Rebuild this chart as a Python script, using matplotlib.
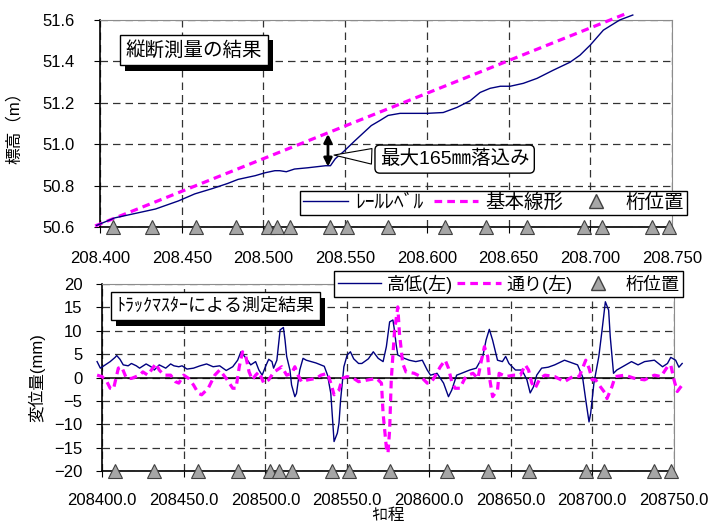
import matplotlib
matplotlib.use("Agg")
import matplotlib.pyplot as plt
import matplotlib.patheffects as pe
from matplotlib.lines import Line2D

plt.rcParams["font.family"] = ["Liberation Sans", "Noto Sans CJK JP"]

# --- data ------------------------------------------------------------------
# upper panel: longitudinal survey (km, m)
rail_km = [208.398, 208.409, 208.423, 208.434, 208.448, 208.458, 208.4685, 208.478,
           208.4845, 208.495, 208.501, 208.507, 208.510, 208.514, 208.519, 208.527,
           208.538, 208.541, 208.544, 208.549, 208.556, 208.566, 208.5714, 208.5763,
           208.5836, 208.600, 208.610, 208.6185, 208.6265, 208.6326, 208.6387, 208.645,
           208.651, 208.659, 208.6674, 208.6772, 208.6876, 208.6937, 208.700, 208.708,
           208.718, 208.726]
rail_m = [50.608, 50.644, 50.668, 50.687, 50.726, 50.760, 50.785, 50.810,
          50.830, 50.848, 50.862, 50.872, 50.872, 50.867, 50.880, 50.886,
          50.896, 50.896, 50.930, 50.964, 51.017, 51.090, 51.115, 51.139,
          51.149, 51.149, 51.153, 51.178, 51.210, 51.250, 51.270, 51.280,
          51.280, 51.294, 51.318, 51.357, 51.396, 51.430, 51.479, 51.551,
          51.600, 51.624]
base_km = [208.397, 208.721]
base_m = [50.605, 51.628]

girder_km = [208.408, 208.432, 208.459, 208.483, 208.503, 208.508, 208.516, 208.541,
             208.551, 208.576, 208.611, 208.636, 208.661, 208.696, 208.707, 208.738,
             208.748]

drop_km = 208.5395
drop_top = 51.063
drop_bottom = 50.878

# lower panel: track master (m, mm)
takatei_x = [208397, 208399, 208402, 208405, 208408, 208409, 208411, 208413, 208416, 208418,
             208421, 208423, 208427, 208430, 208432, 208435, 208439, 208442, 208444, 208447,
             208449, 208452, 208456, 208460, 208464, 208468, 208472, 208476, 208480, 208483,
             208485, 208489, 208491, 208494, 208496, 208498, 208500, 208502, 208504, 208505,
             208507, 208509, 208511, 208512, 208513, 208515, 208516, 208518, 208519, 208521,
             208523, 208525, 208531, 208536, 208538, 208540, 208541, 208542, 208544, 208545,
             208546, 208548, 208550, 208552, 208554, 208557, 208559, 208563, 208566, 208569,
             208572, 208574, 208576, 208578, 208579, 208580, 208581, 208585, 208588, 208592,
             208596, 208599, 208601, 208605, 208609, 208612, 208614, 208617, 208620, 208625,
             208629, 208633, 208635, 208637, 208639, 208642, 208645, 208647, 208649, 208653,
             208657, 208660, 208662, 208664, 208666, 208669, 208673, 208677, 208683, 208687,
             208691, 208694, 208696, 208698, 208699, 208701, 208704, 208706, 208708, 208710,
             208711, 208713, 208715, 208718, 208724, 208728, 208732, 208738, 208743, 208746,
             208748, 208751, 208753, 208755]
takatei_mm = [3.4, 2.0, 2.7, 3.4, 4.3, 4.7, 3.9, 2.7, 2.5, 3.0,
              2.5, 2.0, 2.9, 2.3, 1.6, 2.7, 2.0, 2.9, 2.5, 2.3,
              2.5, 1.8, 2.0, 2.5, 2.9, 2.3, 2.5, 1.5, 2.3, 3.7,
              5.5, 3.7, 2.7, 3.4, 1.6, 0.5, 2.3, 3.9, 3.4, 2.0,
              3.7, 10.2, 10.7, 8.0, 4.5, 1.6, -1.6, -4.1, -3.4, 1.6,
              4.1, 3.7, 3.1, 2.4, 0.5, -3.4, -8.4, -13.7, -11.9, -9.8,
              -4.8, 2.3, 4.8, 5.5, 4.0, 3.0, 3.0, 4.0, 5.5, 4.1,
              3.4, 6.6, 11.9, 12.3, 10.0, 7.0, 4.8, 4.1, 3.7, 3.4,
              3.7, 1.6, 0.5, 0.9, -1.2, -4.1, -2.7, 0.5, 0.9, 1.6,
              2.0, 4.5, 8.0, 10.3, 8.0, 3.7, 3.4, 4.5, 3.0, 1.6,
              1.6, -0.5, -3.3, -2.0, 0.5, 2.0, 2.2, 2.7, 3.7, 3.2,
              2.7, 0.2, -4.8, -9.5, -7.7, -1.2, 4.5, 10.2, 16.2, 14.4,
              8.7, 0.9, 1.6, 2.2, 3.4, 2.7, 3.4, 3.7, 2.3, 3.0,
              4.3, 3.7, 2.2, 3.0]

toori_x = [208397, 208400, 208403, 208405, 208407, 208410, 208412, 208415, 208418, 208423,
           208425, 208428, 208433, 208435, 208438, 208442, 208445, 208447, 208450, 208453,
           208456, 208459, 208461, 208465, 208469, 208472, 208476, 208480, 208482, 208484,
           208486, 208488, 208490, 208492, 208494, 208496, 208499, 208502, 208505, 208510,
           208513, 208516, 208518, 208520, 208522, 208526, 208531, 208534, 208538, 208540,
           208542, 208545, 208547, 208550, 208554, 208557, 208563, 208568, 208571, 208572,
           208574, 208575, 208576, 208577, 208579, 208581, 208582, 208584, 208586, 208591,
           208595, 208599, 208601, 208603, 208607, 208610, 208612, 208614, 208616, 208619,
           208622, 208624, 208627, 208630, 208632, 208634, 208636, 208637, 208639, 208642,
           208643, 208647, 208652, 208656, 208659, 208661, 208663, 208665, 208668, 208671,
           208677, 208683, 208688, 208692, 208696, 208698, 208700, 208702, 208705, 208708,
           208709, 208712, 208714, 208720, 208726, 208732, 208738, 208742, 208746, 208748,
           208750, 208752, 208755]
toori_mm = [0.5, 0.2, -0.9, -2.3, -2.5, 2.0, 2.3, -0.2, -0.2, 0.5,
            1.2, 0.5, 3.0, 1.6, 0.5, 0.5, -0.9, -1.2, 0.5, -0.2,
            -1.6, -3.4, -3.7, -2.3, 0.5, 1.6, -0.2, -2.3, -2.3, 2.3,
            5.5, 4.5, 1.2, -0.5, 0.5, 1.2, -1.2, -0.5, 1.1, 2.3,
            0.5, 0.9, 2.3, 0.5, -0.9, -0.5, -0.2, 0.5, 0.9, -1.2,
            -3.7, -2.7, -0.2, 0.2, -0.2, -0.9, -0.5, -0.2, -1.2, -7.7,
            -15.0, -16.2, -11.2, -0.5, 10.0, 15.1, 9.5, 3.0, 1.2, 0.9,
            0.2, -1.2, -1.2, -0.2, 2.3, 3.7, 2.0, -0.9, -2.3, -2.3,
            -0.2, 0.5, 0.9, -0.2, 3.4, 6.6, 4.5, 0.2, -4.1, -2.7,
            0.9, 0.2, 0.5, 0.5, 2.7, 1.6, -1.2, -2.3, -0.2, 0.5,
            0.2, -0.9, 0.2, 0.2, 3.7, 2.0, -0.5, -0.5, -2.0, -3.4,
            -4.5, -2.0, 0.2, 0.5, -0.2, -0.5, 0.5, 0.2, 2.3, 2.7,
            -0.5, -3.0, -1.6]

top_xticks = [208.400, 208.450, 208.500, 208.550, 208.600, 208.650, 208.700, 208.750]
top_yticks = [50.6, 50.8, 51.0, 51.2, 51.4, 51.6]
bot_xticks = [208400, 208450, 208500, 208550, 208600, 208650, 208700, 208750]
bot_yticks = [-20, -15, -10, -5, 0, 5, 10, 15, 20]

NAVY = "#000080"
MAGENTA = "#ff00ff"
TRI_FC = "#a6a6a6"
DASH = (0, (2.4, 1.6))
GRID = dict(color="0.2", linestyle=(0, (6, 4)), linewidth=0.9)


def style_axes(ax):
    for side in ("left", "bottom"):
        ax.spines[side].set_color("black")
        ax.spines[side].set_linewidth(1.2)
    for side in ("top", "right"):
        ax.spines[side].set_color("0.55")
    ax.grid(True, **GRID)
    ax.set_axisbelow(True)


def title_box(ax, x, y, text, size):
    t = ax.text(x, y, text, transform=ax.transAxes, fontsize=size, color="black",
                ha="center", va="center", zorder=6,
                bbox=dict(boxstyle="square,pad=0.3", fc="white", ec="black", lw=1))
    # drop shadow of the box, like the spreadsheet original
    t.get_bbox_patch().set_path_effects([
        pe.SimplePatchShadow(offset=(4, -4), shadow_rgbFace="black", alpha=1.0),
        pe.Normal()])


fig = plt.figure(figsize=(7.12, 5.25), dpi=100)

# ---------------------------------------------------------------------------
ax1 = fig.add_axes([100 / 712, 1 - 227 / 525, 572 / 712, 207 / 525])
style_axes(ax1)
ax1.plot(base_km, base_m, color=MAGENTA, lw=2.3, linestyle=DASH, clip_on=False, zorder=3)
ax1.plot(rail_km, rail_m, color=NAVY, lw=1.0, clip_on=False, zorder=3)
ax1.plot(girder_km, [50.6] * len(girder_km), linestyle="none", marker="^", ms=10,
         mfc=TRI_FC, mec="0.25", mew=0.8, clip_on=False, zorder=4)
ax1.set_xlim(208.400, 208.750)
ax1.set_ylim(50.6, 51.6)
ax1.set_xticks(top_xticks)
ax1.set_xticklabels([f"{v:.3f}" for v in top_xticks])
ax1.set_yticks(top_yticks)
ax1.set_yticklabels([f"{v:.1f}" for v in top_yticks])
ax1.tick_params(axis="x", labelsize=12, pad=13, length=4)
ax1.tick_params(axis="y", labelsize=12, pad=14, length=4)
ax1.set_ylabel("標高（m）", fontsize=12)
ax1.yaxis.set_label_coords(-0.136, 0.5)

ax1.annotate("", xy=(drop_km, drop_top), xytext=(drop_km, drop_bottom),
             arrowprops=dict(arrowstyle="<|-|>", color="black", lw=2, mutation_scale=12),
             zorder=5)
ax1.annotate("最大165㎜落込み", xy=(drop_km + 0.002, 50.948), xytext=(208.617, 50.928),
             fontsize=14, ha="center", va="center", zorder=6,
             bbox=dict(boxstyle="round,pad=0.25", fc="white", ec="black", lw=1),
             arrowprops=dict(arrowstyle="wedge,tail_width=0.8,shrink_factor=0.5",
                             fc="white", ec="black", lw=0.8))

title_box(ax1, 0.164, 0.855, "縦断測量の結果", 14)

h_rail = Line2D([], [], color=NAVY, lw=1.0)
h_base = Line2D([], [], color=MAGENTA, lw=2.3, linestyle=DASH)
h_tri = Line2D([], [], linestyle="none", marker="^", ms=10, mfc=TRI_FC, mec="0.25")
leg1 = ax1.legend([h_rail, h_base, h_tri], ["ﾚｰﾙﾚﾍﾞﾙ", "基本線形", "桁位置"],
                  loc="lower right", bbox_to_anchor=(1.026, 0.058), ncol=3,
                  fontsize=14, frameon=True, fancybox=False, framealpha=1,
                  edgecolor="black", borderaxespad=0, borderpad=0.15,
                  handlelength=2.3, columnspacing=0.55, handletextpad=0.35)
leg1.get_frame().set_linewidth(1.0)
leg1.set_zorder(7)

# ---------------------------------------------------------------------------
ax2 = fig.add_axes([102 / 712, 1 - 471 / 525, 572 / 712, 187 / 525])
style_axes(ax2)
ax2.axhline(0, color="black", lw=1.1, zorder=2)
ax2.plot(takatei_x, takatei_mm, color=NAVY, lw=1.0, clip_on=False, zorder=3)
ax2.plot(toori_x, toori_mm, color=MAGENTA, lw=2.3, linestyle=DASH, clip_on=False, zorder=3)
ax2.plot([k * 1000 for k in girder_km], [-20] * len(girder_km), linestyle="none",
         marker="^", ms=10, mfc=TRI_FC, mec="0.25", mew=0.8, clip_on=False, zorder=4)
ax2.set_xlim(208400, 208750)
ax2.set_ylim(-20, 20)
ax2.set_xticks(bot_xticks)
ax2.set_xticklabels([f"{v:.1f}" for v in bot_xticks])
ax2.set_yticks(bot_yticks)
ax2.tick_params(axis="x", labelsize=12, pad=12, length=4)
ax2.tick_params(axis="y", labelsize=12, pad=10, length=4)
ax2.set_ylabel("変位量(mm)", fontsize=12)
ax2.yaxis.set_label_coords(-0.0997, 0.5)
ax2.set_xlabel("ｷﾛ程", fontsize=12, labelpad=0)

title_box(ax2, 0.198, 0.882, "ﾄﾗｯｸﾏｽﾀｰによる測定結果", 13)

h_tk = Line2D([], [], color=NAVY, lw=1.0)
h_to = Line2D([], [], color=MAGENTA, lw=2.3, linestyle=DASH)
leg2 = ax2.legend([h_tk, h_to, h_tri], ["高低(左)", "通り(左)", "桁位置"],
                  loc="upper right", bbox_to_anchor=(1.016, 1.07), ncol=3,
                  fontsize=13, frameon=True, fancybox=False, framealpha=1,
                  edgecolor="black", borderaxespad=0, borderpad=0.2,
                  handlelength=2.4, columnspacing=0.25, handletextpad=0.3)
leg2.get_frame().set_linewidth(1.0)
leg2.set_zorder(7)

fig.savefig("out.png", dpi=100, facecolor="white")
